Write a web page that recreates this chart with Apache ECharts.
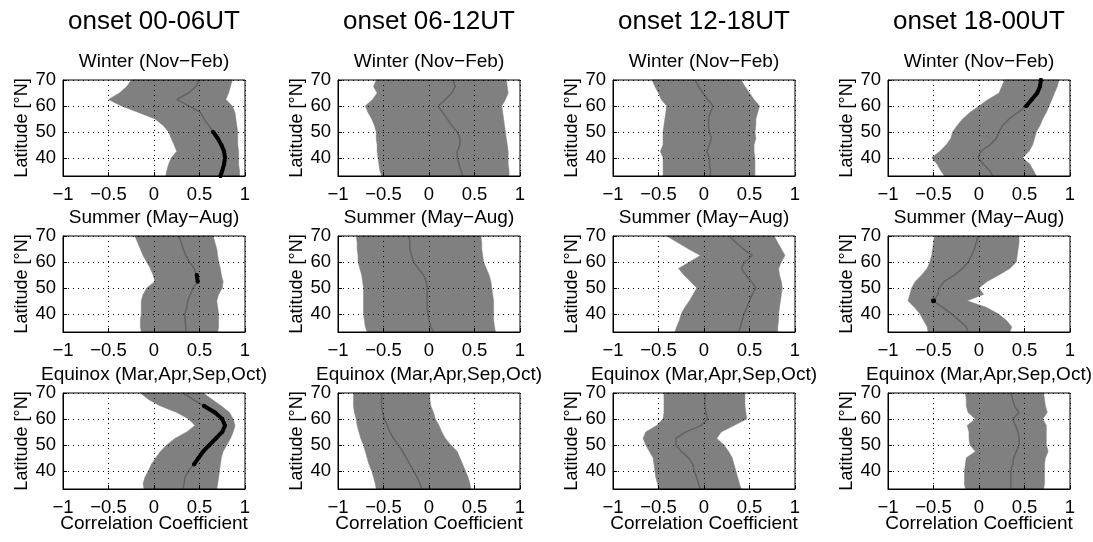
<!DOCTYPE html>
<html>
<head>
<meta charset="utf-8">
<script src="https://cdn.jsdelivr.net/npm/echarts@6/dist/echarts.min.js"></script>
<style>html,body{margin:0;padding:0;background:#fff}#c{width:1093px;height:542px}</style>
</head>
<body>
<div id="c"></div>
<script>
// ---- data (latitude grid, degrees N) ----
const lats = [33, 35, 37.5, 40, 42.5, 45, 47.5, 50, 52.5, 55, 57.5, 60, 62.5, 65, 67.5, 70];
const onsetLabels = ['onset 00-06UT', 'onset 06-12UT', 'onset 12-18UT', 'onset 18-00UT'];
const seasonLabels = ['Winter (Nov\u2212Feb)', 'Summer (May\u2212Aug)', 'Equinox (Mar,Apr,Sep,Oct)'];
const xTicks = [-1, -0.5, 0, 0.5, 1];
const yTicks = [40, 50, 60, 70];

// Winter
const win0006Lo  = [0.13, 0.14, 0.16, 0.19, 0.25, 0.22, 0.19, 0.16, 0.10, 0.01, -0.17, -0.36, -0.50, -0.38, -0.30, -0.25];
const win0006Med = [0.73, 0.75, 0.77, 0.78, 0.77, 0.74, 0.70, 0.65, 0.60, 0.55, 0.51, 0.38, 0.25, 0.38, 0.46, 0.50];
const win0006Hi  = [0.94, 0.94, 0.93, 0.93, 0.93, 0.92, 0.92, 0.92, 0.91, 0.90, 0.89, 0.86, 0.79, 0.82, 0.84, 0.86];
const win0006Sig = [33, 50];

const win0612Lo  = [-0.52, -0.54, -0.55, -0.56, -0.57, -0.57, -0.58, -0.58, -0.60, -0.63, -0.67, -0.70, -0.62, -0.57, -0.61, -0.58];
const win0612Med = [0.37, 0.35, 0.33, 0.31, 0.31, 0.34, 0.34, 0.31, 0.25, 0.20, 0.15, 0.10, 0.18, 0.25, 0.29, 0.26];
const win0612Hi  = [0.88, 0.88, 0.87, 0.87, 0.87, 0.86, 0.85, 0.84, 0.83, 0.82, 0.81, 0.80, 0.84, 0.87, 0.86, 0.85];
const win0612Sig = null;

const win1218Lo  = [-0.45, -0.45, -0.45, -0.45, -0.48, -0.45, -0.45, -0.45, -0.44, -0.43, -0.42, -0.41, -0.47, -0.50, -0.54, -0.57];
const win1218Med = [0.07, 0.07, 0.06, 0.06, 0.03, 0.06, 0.08, 0.06, 0.05, 0.05, 0.07, 0.10, 0.04, -0.01, -0.06, -0.10];
const win1218Hi  = [0.56, 0.56, 0.56, 0.56, 0.55, 0.55, 0.57, 0.56, 0.57, 0.57, 0.59, 0.61, 0.55, 0.50, 0.45, 0.41];
const win1218Sig = null;

const win1800Lo  = [-0.38, -0.42, -0.46, -0.52, -0.43, -0.36, -0.31, -0.29, -0.24, -0.18, -0.10, 0.00, 0.10, 0.22, 0.25, 0.28];
const win1800Med = [0.15, 0.12, 0.05, -0.01, 0.02, 0.12, 0.19, 0.22, 0.26, 0.33, 0.43, 0.52, 0.58, 0.64, 0.67, 0.68];
const win1800Hi  = [0.63, 0.60, 0.56, 0.48, 0.55, 0.59, 0.61, 0.63, 0.67, 0.70, 0.74, 0.77, 0.80, 0.83, 0.86, 0.88];
const win1800Sig = [60, 70];

// Summer
const sum0006Lo  = [-0.14, -0.15, -0.15, -0.14, -0.14, -0.14, -0.12, -0.08, 0.01, -0.01, -0.04, -0.08, -0.12, -0.15, -0.18, -0.21];
const sum0006Med = [0.35, 0.35, 0.34, 0.34, 0.36, 0.37, 0.40, 0.43, 0.48, 0.47, 0.44, 0.39, 0.35, 0.32, 0.30, 0.27];
const sum0006Hi  = [0.70, 0.71, 0.71, 0.71, 0.70, 0.69, 0.71, 0.75, 0.76, 0.74, 0.73, 0.71, 0.70, 0.69, 0.67, 0.65];
const sum0006Sig = [52.5, 55];

const sum0612Lo  = [-0.68, -0.70, -0.71, -0.72, -0.72, -0.72, -0.72, -0.72, -0.73, -0.74, -0.76, -0.78, -0.78, -0.79, -0.79, -0.80];
const sum0612Med = [0.05, 0.02, 0.00, -0.01, -0.02, -0.02, -0.02, -0.02, -0.03, -0.06, -0.12, -0.17, -0.19, -0.21, -0.21, -0.22];
const sum0612Hi  = [0.73, 0.72, 0.71, 0.71, 0.71, 0.71, 0.70, 0.69, 0.68, 0.66, 0.63, 0.60, 0.59, 0.58, 0.58, 0.57];
const sum0612Sig = null;

const sum1218Lo  = [-0.32, -0.30, -0.27, -0.25, -0.21, -0.16, -0.12, -0.08, -0.15, -0.22, -0.28, -0.16, -0.04, -0.17, -0.29, -0.41];
const sum1218Med = [0.38, 0.40, 0.42, 0.44, 0.47, 0.50, 0.53, 0.57, 0.52, 0.46, 0.41, 0.45, 0.53, 0.43, 0.35, 0.28];
const sum1218Hi  = [0.81, 0.81, 0.82, 0.82, 0.83, 0.84, 0.85, 0.86, 0.85, 0.83, 0.82, 0.85, 0.89, 0.85, 0.81, 0.77];
const sum1218Sig = null;

const sum1800Lo  = [-0.56, -0.57, -0.61, -0.65, -0.71, -0.78, -0.76, -0.74, -0.70, -0.63, -0.57, -0.54, -0.52, -0.51, -0.50, -0.49];
const sum1800Med = [-0.12, -0.14, -0.22, -0.30, -0.40, -0.50, -0.45, -0.44, -0.38, -0.27, -0.18, -0.12, -0.08, -0.05, -0.03, -0.01];
const sum1800Hi  = [0.34, 0.36, 0.30, 0.21, 0.08, -0.13, 0.05, 0.00, 0.09, 0.22, 0.34, 0.41, 0.42, 0.43, 0.44, 0.44];
const sum1800Sig = [45, 45];

// Equinox
const equ0006Lo  = [-0.11, -0.12, -0.10, -0.06, -0.03, 0.02, 0.07, 0.14, 0.23, 0.36, 0.45, 0.38, 0.25, 0.07, -0.06, -0.15];
const equ0006Med = [0.32, 0.33, 0.34, 0.38, 0.44, 0.49, 0.54, 0.61, 0.68, 0.75, 0.78, 0.75, 0.67, 0.55, 0.43, 0.32];
const equ0006Hi  = [0.69, 0.70, 0.71, 0.72, 0.73, 0.74, 0.76, 0.80, 0.84, 0.87, 0.89, 0.87, 0.83, 0.74, 0.64, 0.54];
const equ0006Sig = [42.5, 65];

const equ0612Lo  = [-0.58, -0.59, -0.61, -0.63, -0.66, -0.68, -0.70, -0.72, -0.75, -0.77, -0.79, -0.80, -0.82, -0.83, -0.83, -0.83];
const equ0612Med = [-0.08, -0.10, -0.13, -0.17, -0.21, -0.25, -0.29, -0.34, -0.39, -0.43, -0.46, -0.49, -0.51, -0.52, -0.52, -0.52];
const equ0612Hi  = [0.46, 0.45, 0.43, 0.40, 0.37, 0.34, 0.31, 0.24, 0.18, 0.14, 0.11, 0.07, 0.05, 0.02, 0.01, 0.01];
const equ0612Sig = null;

const equ1218Lo  = [-0.50, -0.51, -0.53, -0.54, -0.55, -0.56, -0.60, -0.64, -0.67, -0.64, -0.52, -0.45, -0.44, -0.44, -0.44, -0.44];
const equ1218Med = [-0.04, -0.06, -0.08, -0.11, -0.12, -0.17, -0.25, -0.31, -0.31, -0.20, -0.03, 0.04, 0.02, 0.01, 0.01, 0.01];
const equ1218Hi  = [0.41, 0.39, 0.37, 0.35, 0.33, 0.31, 0.27, 0.22, 0.14, 0.19, 0.33, 0.47, 0.46, 0.45, 0.45, 0.45];
const equ1218Sig = null;

const equ1800Lo  = [-0.15, -0.16, -0.16, -0.16, -0.15, -0.14, -0.04, -0.10, -0.11, -0.11, -0.13, -0.04, -0.12, -0.14, -0.14, -0.15];
const equ1800Med = [0.35, 0.35, 0.35, 0.35, 0.37, 0.38, 0.41, 0.44, 0.44, 0.43, 0.40, 0.37, 0.44, 0.39, 0.37, 0.35];
const equ1800Hi  = [0.71, 0.72, 0.72, 0.72, 0.72, 0.73, 0.76, 0.74, 0.74, 0.74, 0.74, 0.70, 0.75, 0.73, 0.72, 0.71];
const equ1800Sig = null;

const panels = [
  [win0006Lo, win0006Med, win0006Hi, win0006Sig], [win0612Lo, win0612Med, win0612Hi, win0612Sig],
  [win1218Lo, win1218Med, win1218Hi, win1218Sig], [win1800Lo, win1800Med, win1800Hi, win1800Sig],
  [sum0006Lo, sum0006Med, sum0006Hi, sum0006Sig], [sum0612Lo, sum0612Med, sum0612Hi, sum0612Sig],
  [sum1218Lo, sum1218Med, sum1218Hi, sum1218Sig], [sum1800Lo, sum1800Med, sum1800Hi, sum1800Sig],
  [equ0006Lo, equ0006Med, equ0006Hi, equ0006Sig], [equ0612Lo, equ0612Med, equ0612Hi, equ0612Sig],
  [equ1218Lo, equ1218Med, equ1218Hi, equ1218Sig], [equ1800Lo, equ1800Med, equ1800Hi, equ1800Sig]
];

// ---- layout ----
const FONT = '"Liberation Sans", Arial, Helvetica, sans-serif';
const colLeft = [63, 338, 613, 888];
const rowTop = [80, 236, 393];
const PW = 182, PH = 96;
const fmt = v => (v < 0 ? '\u2212' + Math.abs(v) : String(v));

const grids = [], xAxes = [], yAxes = [], series = [], graphics = [];

for (let r = 0; r < 3; r++) {
  for (let c = 0; c < 4; c++) {
    const p = r * 4 + c;
    const [lo, med, hi, sig] = panels[p];
    grids.push({left: colLeft[c], top: rowTop[r], width: PW, height: PH,
      show: true, z: 10, backgroundColor: 'rgba(0,0,0,0)', borderColor: '#000', borderWidth: 1});
    xAxes.push({type: 'value', gridIndex: p, min: -1, max: 1, interval: 0.5, z: 10,
      axisLine: {show: true, onZero: false, lineStyle: {color: '#000', width: 1}},
      axisTick: {show: true, inside: true, length: 4, lineStyle: {color: '#000'}},
      axisLabel: {color: '#000', fontSize: 18.5, fontFamily: FONT, margin: 9, formatter: fmt, showMinLabel: true, showMaxLabel: true},
      splitLine: {show: true, lineStyle: {color: '#000', type: [1, 4], width: 1}}
    });
    yAxes.push({type: 'value', gridIndex: p, min: 33, max: 70, z: 10,
      name: 'Latitude [\u00b0N]', nameLocation: 'middle', nameRotate: 90, nameGap: 32,
      nameTextStyle: {color: '#000', fontSize: 18, fontFamily: FONT},
      axisLine: {show: true, onZero: false, lineStyle: {color: '#000', width: 1}},
      axisTick: {show: true, inside: true, length: 4, customValues: yTicks, lineStyle: {color: '#000'}},
      axisLabel: {color: '#000', fontSize: 18.5, fontFamily: FONT, margin: 7, customValues: yTicks},
      splitLine: {show: true, lineStyle: {color: '#000', type: [1, 4], width: 1}}
    });
    // band
    series.push({type: 'custom', xAxisIndex: p, yAxisIndex: p, z: 2, silent: true,
      data: [[lo[0], lats[0]]],
      renderItem: function (params, api) {
        const pts = [];
        for (let i = 0; i < lats.length; i++) pts.push(api.coord([lo[i], lats[i]]));
        for (let i = lats.length - 1; i >= 0; i--) pts.push(api.coord([hi[i], lats[i]]));
        return {type: 'polygon', shape: {points: pts}, style: {fill: '#808080', stroke: '#808080', lineWidth: 0.5}};
      }
    });
    // median
    series.push({type: 'line', xAxisIndex: p, yAxisIndex: p, z: 3, silent: true,
      data: lats.map((la, i) => [med[i], la]), showSymbol: false, symbol: 'none',
      lineStyle: {color: '#626262', width: 1.5}});
    // significant part
    if (sig) {
      const sd = lats.map((la, i) => [med[i], la]).filter(d => d[1] >= sig[0] && d[1] <= sig[1]);
      series.push({type: 'line', xAxisIndex: p, yAxisIndex: p, z: 4, silent: true,
        data: sd, showSymbol: true, symbol: 'circle', symbolSize: sd.length > 1 ? 4 : 5,
        itemStyle: {color: '#000', borderWidth: 0}, lineStyle: {color: '#000', width: 4, cap: 'round', join: 'round'}});
    }
    // panel title
    graphics.push({type: 'text', x: colLeft[c] + PW / 2, y: rowTop[r] - 18,
      style: {text: seasonLabels[r], fill: '#000', font: '19px ' + FONT, textAlign: 'center', textVerticalAlign: 'middle'}});
  }
}
for (let c = 0; c < 4; c++) {
  graphics.push({type: 'text', x: colLeft[c] + PW / 2, y: 22,
    style: {text: onsetLabels[c], fill: '#000', font: '26px ' + FONT, textAlign: 'center', textVerticalAlign: 'middle'}});
  graphics.push({type: 'text', x: colLeft[c] + PW / 2, y: 524,
    style: {text: 'Correlation Coefficient', fill: '#000', font: '19px ' + FONT, textAlign: 'center', textVerticalAlign: 'middle'}});
}

const chart = echarts.init(document.getElementById('c'), null, {renderer: 'canvas'});
chart.setOption({
  animation: false,
  backgroundColor: '#fff',
  grid: grids, xAxis: xAxes, yAxis: yAxes, series: series, graphic: graphics
});
</script>
</body>
</html>
